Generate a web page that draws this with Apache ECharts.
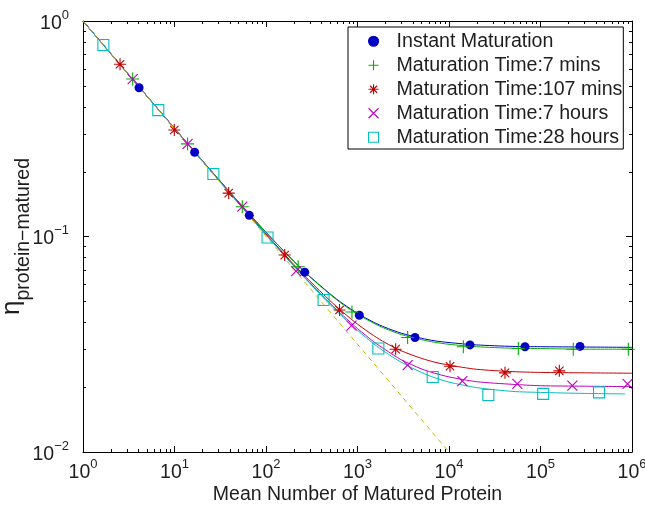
<!DOCTYPE html>
<html><head><meta charset="utf-8">
<script src="https://cdn.jsdelivr.net/npm/echarts@6/dist/echarts.min.js"></script>
<style>html,body{margin:0;padding:0;background:#fff}#c{width:645px;height:506px}</style>
</head><body><div id="c"></div>
<script>
// ---- tick labels (decade exponents) ----
const xExponents = [0, 1, 2, 3, 4, 5, 6];
const yExponents = [-2, -1, 0];

// ---- legend names ----
const seriesNames = ['Instant Maturation', 'Maturation Time:7 mins', 'Maturation Time:107 mins', 'Maturation Time:7 hours', 'Maturation Time:28 hours'];

// ---- fitted curves ----
const curveX = [1, 2, 5, 10, 20, 50, 100, 200, 300, 500, 700, 1000, 1500, 2000, 3000, 5000, 7000, 10000, 20000, 50000, 100000, 300000, 1000000];
const curveXCyan = [1, 2, 5, 10, 20, 50, 100, 200, 300, 500, 700, 1000, 1500, 2000, 3000, 5000, 7000, 10000, 20000, 50000, 100000, 300000, 840000];
const curveInstant = [1.0, 0.708, 0.448, 0.3177, 0.2257, 0.1447, 0.1046, 0.0770, 0.0653, 0.0542, 0.0486, 0.0440, 0.0400, 0.0379, 0.0356, 0.0337, 0.0328, 0.0322, 0.0314, 0.0309, 0.0308, 0.0307, 0.0306];
const curve7min = [1.0, 0.708, 0.448, 0.3176, 0.2256, 0.1446, 0.1044, 0.0768, 0.0651, 0.0539, 0.0482, 0.0436, 0.0396, 0.0374, 0.0351, 0.0332, 0.0323, 0.0316, 0.0308, 0.0303, 0.0302, 0.0300, 0.0300];
const curve107min = [1.0, 0.7075, 0.4478, 0.3171, 0.2248, 0.1433, 0.1027, 0.0744, 0.0622, 0.0504, 0.0444, 0.0392, 0.0347, 0.0322, 0.0295, 0.0272, 0.0261, 0.0253, 0.0242, 0.0236, 0.0234, 0.0233, 0.0232];
const curve7h = [1.0, 0.7074, 0.4477, 0.3169, 0.2245, 0.1428, 0.1020, 0.0735, 0.0611, 0.0490, 0.0428, 0.0374, 0.0325, 0.0299, 0.0268, 0.0243, 0.0232, 0.0223, 0.0212, 0.0206, 0.0203, 0.0202, 0.0201];
const curve28h = [1.0, 0.7073, 0.4476, 0.3168, 0.2244, 0.1426, 0.1017, 0.0731, 0.0607, 0.0484, 0.0421, 0.0367, 0.0318, 0.0291, 0.0261, 0.0234, 0.0221, 0.0211, 0.0199, 0.0191, 0.0189, 0.0187, 0.0186];
const refLineX = [1, 10000];
const refLineY = [1, 0.01];

// ---- markers ----
const ptsInstant = [[4.1, 0.490], [16.6, 0.246], [65.7, 0.1254], [265, 0.0683], [1047, 0.0431], [4250, 0.0340], [16980, 0.0314], [67700, 0.0308], [270000, 0.0309]];
const pts7min = [[3.49, 0.538], [13.9, 0.269], [55.1, 0.1375], [225, 0.0724], [870, 0.0446], [3530, 0.0340], [14350, 0.0308], [57200, 0.0302], [228000, 0.0300], [912000, 0.0300]];
const pts107min = [[2.54, 0.63], [9.95, 0.312], [39.1, 0.159], [160, 0.082], [636, 0.0456], [2612, 0.0300], [10260, 0.0250], [40900, 0.0233], [160600, 0.0238]];
const pts7h = [[3.49, 0.538], [13.9, 0.269], [55.1, 0.1375], [213, 0.0690], [860, 0.0386], [3530, 0.0253], [14000, 0.0213], [55800, 0.0207], [223000, 0.0203], [894000, 0.0207]];
const pts28h = [[1.67, 0.774], [6.65, 0.386], [26.6, 0.195], [104, 0.099], [426, 0.0507], [1690, 0.0302], [6640, 0.0223], [26900, 0.0184], [107000, 0.0186], [436000, 0.0189]];

const C = { blue: '#0000c4', green: '#00b000', red: '#c40000', mag: '#bf00bf', cyan: '#00bfbf', yel: '#bfbf00' };
const FONT = "'Liberation Sans', Arial, Helvetica, sans-serif";
const TXT = '#1e1e1e';

const SYM_PLUS = 'path://M0,5L10,5M5,0L5,10';
const SYM_STAR = 'path://M0,5L10,5M5,0L5,10M1.5,1.5L8.5,8.5M1.5,8.5L8.5,1.5';
const SYM_X = 'path://M0,0L10,10M0,10L10,0';
const SYM_SQ = 'path://M0,0L10,0L10,10L0,10Z';

function zip(xs, ys) { return xs.map((x, i) => [x, ys[i]]); }
function powLabel(exps) {
  return function (v) {
    const e = Math.round(Math.log10(v));
    if (exps.indexOf(e) < 0) return '';
    return '{b|10}{s|' + (e < 0 ? '\u2212' + (-e) : e) + '}';
  };
}
const richPow = {
  b: { fontSize: 19.5, lineHeight: 20, verticalAlign: 'bottom', fontFamily: FONT, color: TXT },
  s: { fontSize: 13, padding: [0, 0, 11.5, 0], verticalAlign: 'top', fontFamily: FONT, color: TXT }
};

function baseAxis(min, max, split) {
  return {
    type: 'log', logBase: 10, min: min, max: max, splitNumber: split,
    axisLine: { show: true, lineStyle: { color: '#000', width: 1 } },
    axisTick: { show: true, inside: true, length: 6, lineStyle: { color: '#000', width: 1 } },
    splitLine: { show: false }, minorTick: { show: false }
  };
}

const xMain = Object.assign(baseAxis(1, 1e6, 6), {
  position: 'bottom',
  name: 'Mean Number of Matured Protein', nameLocation: 'middle', nameGap: 33, nameMoveOverlap: false,
  nameTextStyle: { fontSize: 19.5, fontFamily: FONT, color: TXT, verticalAlign: 'top' },
  axisLabel: { margin: 6, formatter: powLabel(xExponents), rich: richPow }
});
const xTop = Object.assign(baseAxis(1, 1e6, 6), { position: 'top', axisLabel: { show: false } });
const yMain = Object.assign(baseAxis(0.01, 1, 2), {
  position: 'left',
  name: '{e|\u03B7}{s|protein\u2212matured}', nameLocation: 'middle', nameGap: 49, nameMoveOverlap: false,
  nameTextStyle: {
    rich: {
      e: { fontSize: 26, fontFamily: FONT, color: TXT, verticalAlign: 'top' },
      s: { fontSize: 19.5, fontFamily: FONT, color: TXT, verticalAlign: 'bottom', padding: [15, 0, 0, 0] }
    }
  },
  axisLabel: { margin: 14, formatter: powLabel(yExponents), rich: richPow }
});
const yRight = Object.assign(baseAxis(0.01, 1, 2), { position: 'right', axisLabel: { show: false } });

function lineSeries(name, data, color, extra) {
  return Object.assign({
    type: 'line', name: name, data: data, showSymbol: false, symbol: 'none', smooth: 0.25,
    lineStyle: { color: color, width: 1 }, itemStyle: { color: color }, z: 2, silent: true, animation: false
  }, extra || {});
}
function scatterSeries(name, data, symbol, size, color, filled) {
  return {
    type: 'scatter', name: name, data: data, symbol: symbol, symbolSize: size,
    itemStyle: { color: filled ? color : 'rgba(0,0,0,0)', borderColor: color, borderWidth: filled ? 0 : 1.1, opacity: 1 },
    z: 4, silent: true, animation: false
  };
}

// minor ticks (2..9 per decade) drawn via the axes' own scales
const minorMult = [2, 3, 4, 5, 6, 7, 8, 9];
const minorTicks = {
  type: 'custom', silent: true, animation: false, z: 5, clip: false,
  data: [[1, 1]],
  renderItem: function (params, api) {
    const ch = [];
    const ls = { stroke: '#000', lineWidth: 1 };
    const yb = api.coord([1, 0.01])[1], yt = api.coord([1, 1])[1];
    const xl = api.coord([1, 0.01])[0], xr = api.coord([1e6, 0.01])[0];
    for (let e = xExponents[0]; e < xExponents[xExponents.length - 1]; e++) {
      minorMult.forEach(function (m) {
        const x = Math.round(api.coord([m * Math.pow(10, e), 0.1])[0]) + 0.5;
        ch.push({ type: 'line', shape: { x1: x, y1: yb, x2: x, y2: yb - 3 }, style: ls });
        ch.push({ type: 'line', shape: { x1: x, y1: yt, x2: x, y2: yt + 3 }, style: ls });
      });
    }
    for (let e = yExponents[0]; e < yExponents[yExponents.length - 1]; e++) {
      minorMult.forEach(function (m) {
        const y = Math.round(api.coord([10, m * Math.pow(10, e)])[1]) + 0.5;
        ch.push({ type: 'line', shape: { x1: xl, y1: y, x2: xl + 3, y2: y }, style: ls });
        ch.push({ type: 'line', shape: { x1: xr, y1: y, x2: xr - 3, y2: y }, style: ls });
      });
    }
    return { type: 'group', children: ch };
  }
};

const chart = echarts.init(document.getElementById('c'), null, { renderer: 'canvas' });
chart.setOption({
  backgroundColor: '#fff',
  animation: false,
  grid: { left: 83, right: 13, top: 21, bottom: 54, containLabel: false, outerBoundsMode: 'none' },
  xAxis: [xMain, xTop],
  yAxis: [yMain, yRight],
  legend: {
    data: seriesNames, orient: 'vertical', left: 348, top: 27,
    padding: [2.5, 1, 0, 20], itemGap: 0.5, itemWidth: 36, itemHeight: 10,
    backgroundColor: '#fff', borderColor: '#000', borderWidth: 1, borderRadius: 0,
    textStyle: { fontSize: 19.6, lineHeight: 23.5, fontFamily: FONT, color: TXT },
    itemStyle: { borderWidth: 1.1 }, selectedMode: false
  },
  series: [
    lineSeries('fitInstant', zip(curveX, curveInstant), C.blue),
    lineSeries('fit7min', zip(curveX, curve7min), C.green),
    lineSeries('fit107min', zip(curveX, curve107min), C.red),
    lineSeries('fit7h', zip(curveX, curve7h), C.mag),
    lineSeries('fit28h', zip(curveXCyan, curve28h), C.cyan),
    lineSeries('ref', zip(refLineX, refLineY), C.yel, { smooth: false, lineStyle: { color: C.yel, width: 1, type: [5, 4] }, z: 3 }),
    scatterSeries(seriesNames[0], ptsInstant, 'circle', 9, C.blue, true),
    scatterSeries(seriesNames[1], pts7min, SYM_PLUS, 13, C.green, false),
    scatterSeries(seriesNames[2], pts107min, SYM_STAR, 12, C.red, false),
    scatterSeries(seriesNames[3], pts7h, SYM_X, 10, C.mag, false),
    scatterSeries(seriesNames[4], pts28h, SYM_SQ, 11, C.cyan, false),
    minorTicks
  ]
});
</script>
</body></html>
